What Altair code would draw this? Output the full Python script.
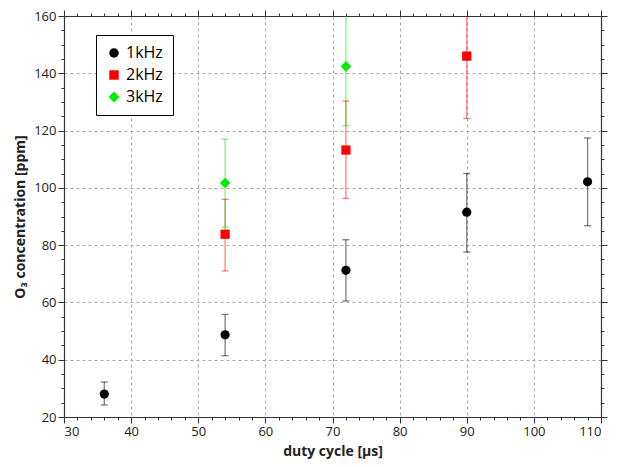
import altair as alt
import pandas as pd

series = ["1kHz"] * 5 + ["2kHz"] * 3 + ["3kHz"] * 2
duty = [36, 54, 72, 90, 108, 54, 72, 90, 54, 72]
o3 = [28.0, 48.7, 71.2, 91.5, 102.1, 83.8, 113.2, 146.0, 101.7, 142.4]
err_lo = [24.2, 41.4, 60.5, 77.6, 86.8, 71.0, 96.3, 124.2, 86.3, 121.7]
err_hi = [32.2, 55.8, 81.9, 105.0, 117.4, 96.0, 130.3, 167.8, 117.0, 163.1]

series_names = ["1kHz", "2kHz", "3kHz"]
series_colors = ["#000000", "#ff0000", "#00ee00"]
series_shapes = ["circle", "square", "M0,-1.15L1.15,0L0,1.15L-1.15,0Z"]

x_ticks = list(range(30, 111, 2))
y_ticks = list(range(20, 161, 5))

df = pd.DataFrame({"series": series, "duty": duty, "o3": o3, "lo": err_lo, "hi": err_hi})

FONT = "Open Sans"
xscale = alt.Scale(domain=[30, 110], nice=False)
yscale = alt.Scale(domain=[20, 160], nice=False)
cscale = alt.Scale(domain=series_names, range=series_colors)
sscale = alt.Scale(domain=series_names, range=series_shapes)

xmajor = "datum.value % 10 === 0"
ymajor = "datum.value % 20 === 0"


def xaxis(orient, labels):
    return alt.Axis(
        orient=orient, values=x_ticks, labels=labels,
        labelExpr=f"{xmajor} ? datum.label : ''",
        tickSize={"condition": {"test": xmajor, "value": 6}, "value": 3},
        grid=(orient == "bottom"),
        gridOpacity={"condition": {"test": xmajor, "value": 1}, "value": 0},
        title="duty cycle [µs]" if labels else None,
    )


def yaxis(orient, labels):
    return alt.Axis(
        orient=orient, values=y_ticks, labels=labels,
        labelExpr=f"{ymajor} ? datum.label : ''",
        tickSize={"condition": {"test": ymajor, "value": 6}, "value": 3},
        grid=(orient == "left"),
        gridOpacity={"condition": {"test": ymajor, "value": 1}, "value": 0},
        title="O₃ concentration [ppm]" if labels else None,
    )


leg = alt.Legend(
    title=None, orient="none", legendX=32, legendY=19,
    strokeColor="black", fillColor="white", padding=10,
    labelFontSize=16, labelFont=FONT, rowPadding=6,
    symbolStrokeWidth=0, symbolOpacity=1, symbolSize=90, labelOffset=4,
)

base = alt.Chart(df)
color = alt.Color("series:N", scale=cscale, legend=leg)

rules = base.mark_rule(strokeWidth=1.3, opacity=0.5, clip=True).encode(
    x=alt.X("duty:Q", scale=xscale, axis=xaxis("bottom", True)),
    y=alt.Y("lo:Q", scale=yscale, axis=yaxis("left", True)),
    y2="hi:Q",
    color=color,
)

caps_lo = base.mark_tick(orient="horizontal", size=7, thickness=1.3, opacity=0.5, clip=True).encode(
    x=alt.X("duty:Q", scale=xscale, axis=xaxis("top", False)),
    y=alt.Y("lo:Q", scale=yscale, axis=yaxis("right", False)),
    color=color,
)

caps_hi = base.mark_tick(orient="horizontal", size=7, thickness=1.3, opacity=0.5, clip=True).encode(
    x=alt.X("duty:Q", scale=xscale, axis=None),
    y=alt.Y("hi:Q", scale=yscale, axis=None),
    color=color,
)

points = base.mark_point(filled=True, opacity=1, size=85).encode(
    x=alt.X("duty:Q", scale=xscale, axis=None),
    y=alt.Y("o3:Q", scale=yscale, axis=None),
    color=color,
    shape=alt.Shape("series:N", scale=sscale, legend=leg),
)

chart = (
    alt.layer(rules, caps_lo, caps_hi, points)
    .resolve_axis(x="independent", y="independent")
    .properties(width=537, height=401, padding={"left": 5, "top": 1, "right": 5, "bottom": 5})
    .configure_view(stroke=None)
    .configure_axis(
        labelFont=FONT, labelFontSize=13, labelColor="#222",
        titleFont=FONT, titleFontSize=14, titleFontWeight="bold", titleColor="#222",
        domainColor="#333", tickColor="#333", domainWidth=1.2, tickWidth=1,
        gridColor="#aaaaaa", gridDash=[3, 3], gridWidth=1, labelPadding=2,
    )
    .configure_axisX(titlePadding=6)
    .configure_axisY(titlePadding=6)
)

chart.save("out.html", embed_options={"renderer": "svg", "actions": False})
